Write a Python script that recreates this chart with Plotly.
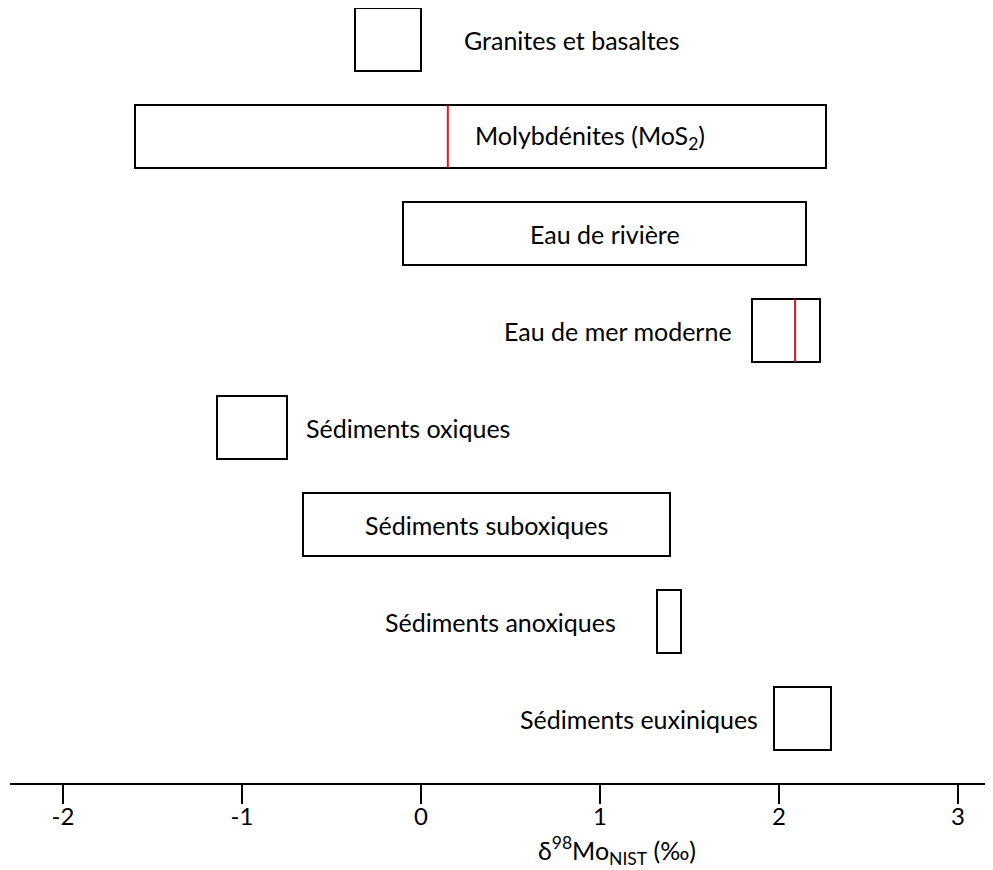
import plotly.graph_objects as go

categories = ["Granites et basaltes", "Molybdénites (MoS<sub>2</sub>)", "Eau de rivière",
              "Eau de mer moderne", "Sédiments oxiques", "Sédiments suboxiques",
              "Sédiments anoxiques", "Sédiments euxiniques"]
low = [-0.37, -1.60, -0.10, 1.85, -1.14, -0.66, 1.32, 1.97]
high = [0.0, 2.26, 2.15, 2.23, -0.75, 1.39, 1.45, 2.29]
mean_vals = [None, 0.15, None, 2.09, None, None, None, None]
label_x = [0.23, 0.944, 1.03, 1.749, -0.654, 0.366, 1.10, 1.894]
label_anchor = ["left", "center", "center", "right", "left", "center", "right", "right"]
tick_vals = [-2, -1, 0, 1, 2, 3]

ypos = list(range(len(categories)))
bh = 0.645

fig = go.Figure()
fig.add_trace(go.Bar(
    orientation="h", y=ypos, base=low, x=[h - l for l, h in zip(low, high)],
    width=bh, marker=dict(color="white", line=dict(color="black", width=2)),
    showlegend=False, hoverinfo="skip"))

for i, m in enumerate(mean_vals):
    if m is not None:
        fig.add_trace(go.Scatter(x=[m, m], y=[i - bh / 2, i + bh / 2], mode="lines",
                                 line=dict(color="#e8141c", width=2),
                                 showlegend=False, hoverinfo="skip"))

font = dict(family="Lato, Open Sans, sans-serif", size=25, color="black")
for i, (c, lx, a) in enumerate(zip(categories, label_x, label_anchor)):
    fig.add_annotation(x=lx, y=i, text=c, xanchor=a, yanchor="middle",
                       showarrow=False, font=font)

fig.add_annotation(x=1.095, y=0, yref="paper", text="δ<sup>98</sup>Mo<sub>NIST</sub> (‰)",
                   xanchor="center", yanchor="middle", yshift=-67, showarrow=False, font=font)

fig.update_layout(
    width=985, height=862, margin=dict(l=2, r=3, t=0, b=87),
    plot_bgcolor="white", paper_bgcolor="white",
    xaxis=dict(range=[-2.296, 3.179], tickvals=tick_vals, ticktext=[str(v) for v in tick_vals],
               showgrid=False, zeroline=False, showline=True, linecolor="black", linewidth=2,
               ticks="outside", ticklen=19, tickwidth=2, tickcolor="black",
               ticklabelstandoff=-8,
               tickfont=dict(family="Lato, Open Sans, sans-serif", size=24, color="black"),
               fixedrange=True),
    yaxis=dict(range=[7.665, -0.325], visible=False, fixedrange=True),
    bargap=0,
)

fig.write_html("out.html")
